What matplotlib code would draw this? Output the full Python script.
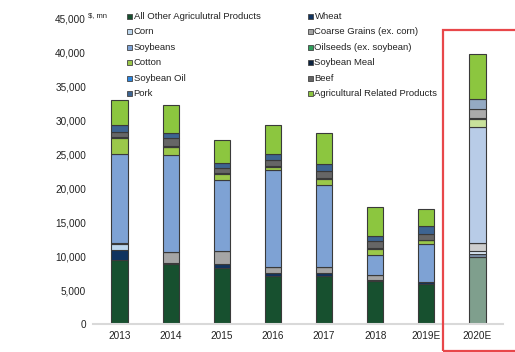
import numpy as np
import matplotlib
matplotlib.use("Agg")
import matplotlib.pyplot as plt
from matplotlib.patches import Rectangle
from matplotlib.colors import to_rgb

plt.rcParams['font.family'] = ['Liberation Sans', 'DejaVu Sans']

years = ['2013', '2014', '2015', '2016', '2017', '2018', '2019E', '2020E']

# $ mn, stacked bottom -> top
all_other = [9470, 8780, 8290, 7100, 7050, 6340, 5920, 9850]
wheat = [1370, 250, 490, 390, 500, 180, 250, 450]
corn = [960, 0, 0, 0, 0, 0, 0, 400]
coarse_grains = [150, 1560, 2020, 890, 830, 630, 0, 1230]
oilseeds = [0, 0, 0, 0, 0, 0, 0, 0]
soybeans = [13150, 14370, 10470, 14260, 12150, 3060, 5560, 17020]
cotton = [2250, 1120, 880, 490, 880, 880, 590, 1260]
soybean_meal = [150, 0, 90, 150, 150, 120, 100, 150]
soybean_oil = [0, 180, 0, 0, 0, 0, 0, 0]
beef = [790, 1140, 800, 830, 930, 1000, 880, 1280]
pork = [990, 800, 740, 990, 1140, 800, 1080, 1470]
ag_related = [3680, 4030, 3280, 4180, 4570, 4170, 2620, 6640]

series = [
    ("All Other Agriculutral Products", all_other, '#17502f'),
    ("Wheat", wheat, '#10335f'),
    ("Corn", corn, '#bdd7ee'),
    ("Coarse Grains (ex. corn)", coarse_grains, '#a5a5a5'),
    ("Soybeans", soybeans, '#7ea2d4'),
    ("Oilseeds (ex. soybean)", oilseeds, '#2e9e5b'),
    ("Cotton", cotton, '#9bc84a'),
    ("Soybean Meal", soybean_meal, '#0c2340'),
    ("Soybean Oil", soybean_oil, '#2e86de'),
    ("Beef", beef, '#666666'),
    ("Pork", pork, '#3d6491'),
    ("Agricultural Related Products", ag_related, '#8cc63f'),
]
# stacking order differs slightly from legend order (oilseeds sit under soybeans)
stack_order = [0, 1, 2, 3, 5, 4, 6, 7, 8, 9, 10, 11]


def fade(c, k=0.55):
    r, g, b = to_rgb(c)
    return (r * k + 1 - k, g * k + 1 - k, b * k + 1 - k)


fig = plt.figure(figsize=(5.15, 3.52), dpi=100)
ax = fig.add_axes([93 / 515, 28 / 352, 410 / 515, 305.5 / 352])

x = np.arange(len(years))
bottom = np.zeros(len(years))
for i in stack_order:
    name, vals, col = series[i]
    cols = [col] * (len(years) - 1)
    cols.append(col if name.startswith("Agricultural") else fade(col))
    ax.bar(x, vals, 0.32, bottom=bottom, color=cols,
           edgecolor='#3a3a3a', linewidth=0.8, zorder=2)
    bottom += np.array(vals)

ax.set_xlim(-0.52, 7.5)
ax.set_ylim(0, 45000)
ax.set_yticks(np.arange(0, 45001, 5000))
ax.yaxis.set_major_formatter(matplotlib.ticker.FuncFormatter(lambda v, p: f"{int(v):,}"))
ax.set_xticks(x)
ax.set_xticklabels(years)
ax.tick_params(axis='both', length=0, labelsize=7.2, colors='#222222')
ax.tick_params(axis='y', pad=5)
ax.tick_params(axis='x', pad=5)
for s in ['top', 'right', 'left']:
    ax.spines[s].set_visible(False)
ax.spines['bottom'].set_color('#d9d9d9')
ax.spines['bottom'].set_linewidth(1.5)

fig.text(88 / 515, 1 - 16 / 352, "$, mn", fontsize=5.5, va='center', ha='left', color='#222222')

# legend, two columns read row by row
for k, (name, vals, col) in enumerate(series):
    row, c = divmod(k, 2)
    x0 = 127 if c == 0 else 308
    yc = 16.5 + row * 15.4
    fig.patches.append(Rectangle((x0 / 515, 1 - (yc + 2.5) / 352), 5 / 515, 5 / 352,
                                 transform=fig.transFigure, facecolor=col,
                                 edgecolor='#444444', linewidth=0.6))
    fig.text((x0 + 6.5) / 515, 1 - yc / 352, name, fontsize=6.8, va='center',
             ha='left', color='#222222')

# red highlight box round the 2020E estimate
fig.patches.append(Rectangle((443 / 515, 1 - 350.5 / 352), 80 / 515, 320.5 / 352,
                             transform=fig.transFigure, fill=False,
                             edgecolor='#e8474a', linewidth=1.6, clip_on=False))

fig.savefig("out.png", dpi=100)
